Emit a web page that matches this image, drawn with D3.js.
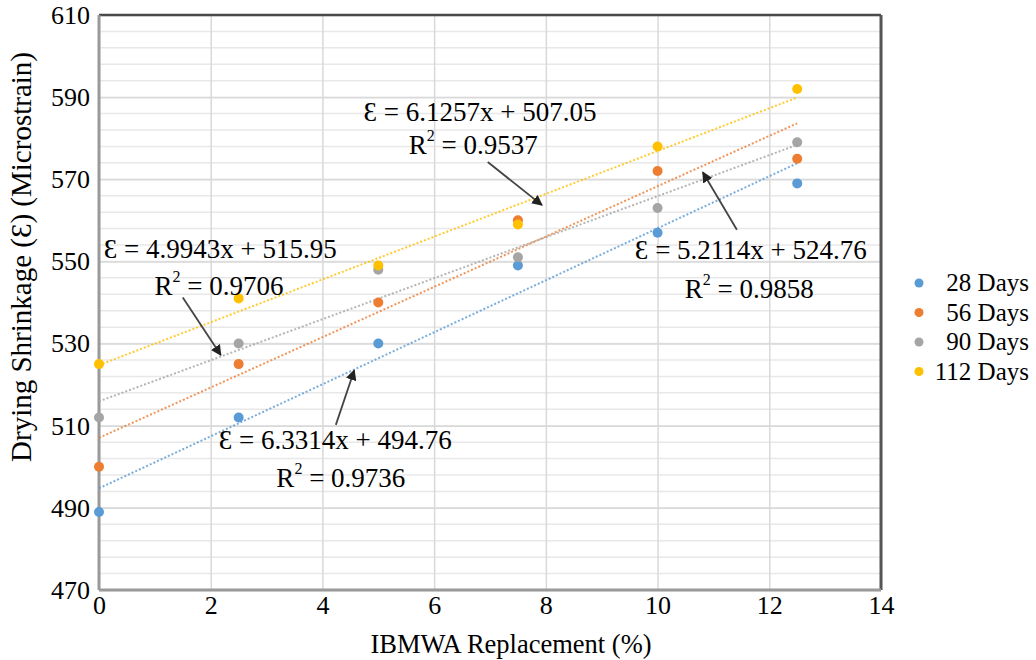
<!DOCTYPE html>
<html>
<head>
<meta charset="utf-8">
<script src="https://cdn.jsdelivr.net/npm/d3@7"></script>
<style>
  body { margin: 0; background: #fff; }
  svg { font-family: "Liberation Serif", "Times New Roman", serif; }
</style>
</head>
<body>
<svg id="chart" width="1036" height="660"></svg>
<script>
// data
var replacement = [0, 2.5, 5, 7.5, 10, 12.5];
var seriesNames = ["28 Days", "56 Days", "90 Days", "112 Days"];
var days28 = [489, 512, 530, 549, 557, 569];
var days56 = [500, 525, 540, 560, 572, 575];
var days90 = [512, 530, 548, 551, 563, 579];
var days112 = [525, 541, 549, 559, 578, 592];
var xTicks = [0, 2, 4, 6, 8, 10, 12, 14];
var yTicks = [470, 490, 510, 530, 550, 570, 590, 610];
var colors = ["#5B9BD5", "#ED7D31", "#A5A5A5", "#FFC000"];

// fitted trend lines (slope, intercept) as printed on the chart
var slopes = [6.3314, 6.1257, 4.9943, 5.2114];
var intercepts = [494.76, 507.05, 515.95, 524.76];

// equation labels, placed in data units
var eqLabels = ["Ɛ = 6.1257x + 507.05", "Ɛ = 4.9943x + 515.95", "Ɛ = 6.3314x + 494.76", "Ɛ = 5.2114x + 524.76"];
var r2Labels = ["0.9537", "0.9706", "0.9736", "0.9858"];
var eqPos = [[6.82, 584.1], [2.17, 550.9], [4.23, 504.4], [11.67, 550.7]];
var r2Pos = [[6.70, 576.1], [2.15, 541.9], [4.33, 495.0], [11.64, 541.0]];
var arrows = [
  [[6.96, 574.2], [7.93, 563.7]],
  [[1.50, 541.2], [2.18, 527.2]],
  [[4.24, 510.2], [4.57, 523.5]],
  [[11.42, 557.7], [10.81, 571.7]]
];

var allSeries = [days28, days56, days90, days112];

var margin = { top: 15, right: 155, bottom: 70, left: 99 },
  width = 1036 - margin.left - margin.right,
  height = 660 - margin.top - margin.bottom;

var svg = d3.select("#chart");
var g = svg.append("g")
  .attr("transform", "translate(" + margin.left + "," + margin.top + ")");

var x = d3.scaleLinear().domain([0, 14]).range([0, width]);
var y = d3.scaleLinear().domain([470, 610]).range([height, 0]);

// minor horizontal grid every 4
g.append("g")
  .selectAll("line")
  .data(d3.range(474, 610, 4))
  .enter()
  .append("line")
  .attr("x1", 0)
  .attr("x2", width)
  .attr("y1", function(d) { return y(d); })
  .attr("y2", function(d) { return y(d); })
  .attr("stroke", "#e8e8e8")
  .attr("stroke-width", 1.5);

// major grid
g.append("g")
  .call(d3.axisLeft(y).tickValues(yTicks).tickSize(-width).tickFormat(""))
  .call(function(s) { s.select(".domain").remove(); })
  .selectAll("line")
  .attr("stroke", "#d9d9d9")
  .attr("stroke-width", 1.5);

g.append("g")
  .call(d3.axisBottom(x).tickValues(xTicks).tickSize(height).tickFormat(""))
  .call(function(s) { s.select(".domain").remove(); })
  .selectAll("line")
  .attr("stroke", "#d9d9d9")
  .attr("stroke-width", 1.5);

// frame
g.append("line").attr("x1", 0).attr("x2", width).attr("y1", 0).attr("y2", 0)
  .attr("stroke", "#4a4a4a").attr("stroke-width", 2.5);
g.append("line").attr("x1", width).attr("x2", width).attr("y1", 0).attr("y2", height)
  .attr("stroke", "#555").attr("stroke-width", 3);
g.append("line").attr("x1", 0).attr("x2", width).attr("y1", height).attr("y2", height)
  .attr("stroke", "#9a9a9a").attr("stroke-width", 3);
g.append("line").attr("x1", 0).attr("x2", 0).attr("y1", 0).attr("y2", height)
  .attr("stroke", "#9a9a9a").attr("stroke-width", 3);

// tick labels
var yAxis = g.append("g")
  .call(d3.axisLeft(y).tickValues(yTicks).tickSize(0).tickPadding(9))
  .call(function(s) { s.select(".domain").remove(); });
yAxis.selectAll("text")
  .style("font-family", "Liberation Serif")
  .style("font-size", "26px")
  .attr("fill", "#000");

var xAxis = g.append("g")
  .attr("transform", "translate(0," + height + ")")
  .call(d3.axisBottom(x).tickValues(xTicks).tickSize(0).tickPadding(6))
  .call(function(s) { s.select(".domain").remove(); });
xAxis.selectAll("text")
  .style("font-family", "Liberation Serif")
  .style("font-size", "26px")
  .attr("fill", "#000");

// axis titles
svg.append("text")
  .attr("x", 511)
  .attr("y", 653)
  .attr("text-anchor", "middle")
  .style("font-size", "26.5px")
  .text("IBMWA Replacement (%)");

svg.append("text")
  .attr("transform", "translate(31,257) rotate(-90)")
  .attr("text-anchor", "middle")
  .style("font-size", "29px")
  .text("Drying Shrinkage (Ɛ) (Microstrain)");

// trend lines
allSeries.forEach(function(vals, i) {
  g.append("line")
    .attr("x1", x(0))
    .attr("y1", y(intercepts[i]))
    .attr("x2", x(12.5))
    .attr("y2", y(intercepts[i] + slopes[i] * 12.5))
    .attr("stroke", colors[i])
    .attr("stroke-width", 2)
    .attr("stroke-dasharray", "2,2")
    .attr("opacity", 0.8);
});

// points
allSeries.forEach(function(vals, i) {
  g.selectAll(".pt" + i)
    .data(vals)
    .enter()
    .append("circle")
    .attr("class", "pt" + i)
    .attr("cx", function(d, j) { return x(replacement[j]); })
    .attr("cy", function(d) { return y(d); })
    .attr("r", 5)
    .attr("fill", colors[i]);
});

// arrows
svg.append("defs").append("marker")
  .attr("id", "head")
  .attr("viewBox", "0 0 10 10")
  .attr("refX", 9)
  .attr("refY", 5)
  .attr("markerWidth", 6)
  .attr("markerHeight", 6)
  .attr("orient", "auto")
  .append("path")
  .attr("d", "M0,0 L10,5 L0,10 z")
  .attr("fill", "#222");

arrows.forEach(function(a) {
  g.append("line")
    .attr("x1", x(a[0][0]))
    .attr("y1", y(a[0][1]))
    .attr("x2", x(a[1][0]))
    .attr("y2", y(a[1][1]))
    .attr("stroke", "#444")
    .attr("stroke-width", 1.8)
    .attr("marker-end", "url(#head)");
});

// equation labels
eqLabels.forEach(function(t, i) {
  g.append("text")
    .attr("x", x(eqPos[i][0]))
    .attr("y", y(eqPos[i][1]))
    .attr("text-anchor", "middle")
    .style("font-size", "27px")
    .text(t);

  var r = g.append("text")
    .attr("x", x(r2Pos[i][0]))
    .attr("y", y(r2Pos[i][1]))
    .attr("text-anchor", "middle")
    .style("font-size", "27px");
  r.append("tspan").text("R");
  r.append("tspan").attr("dy", -13).style("font-size", "16px").text("2");
  r.append("tspan").attr("dy", 13).text(" = " + r2Labels[i]);
});

// legend
var legend = svg.append("g");
seriesNames.forEach(function(name, i) {
  var ly = 283 + i * 29.5;
  legend.append("circle")
    .attr("cx", 919)
    .attr("cy", ly)
    .attr("r", 4.5)
    .attr("fill", colors[i]);
  legend.append("text")
    .attr("x", 1029)
    .attr("y", ly + 8)
    .attr("text-anchor", "end")
    .style("font-size", "25px")
    .text(name);
});
</script>
</body>
</html>
